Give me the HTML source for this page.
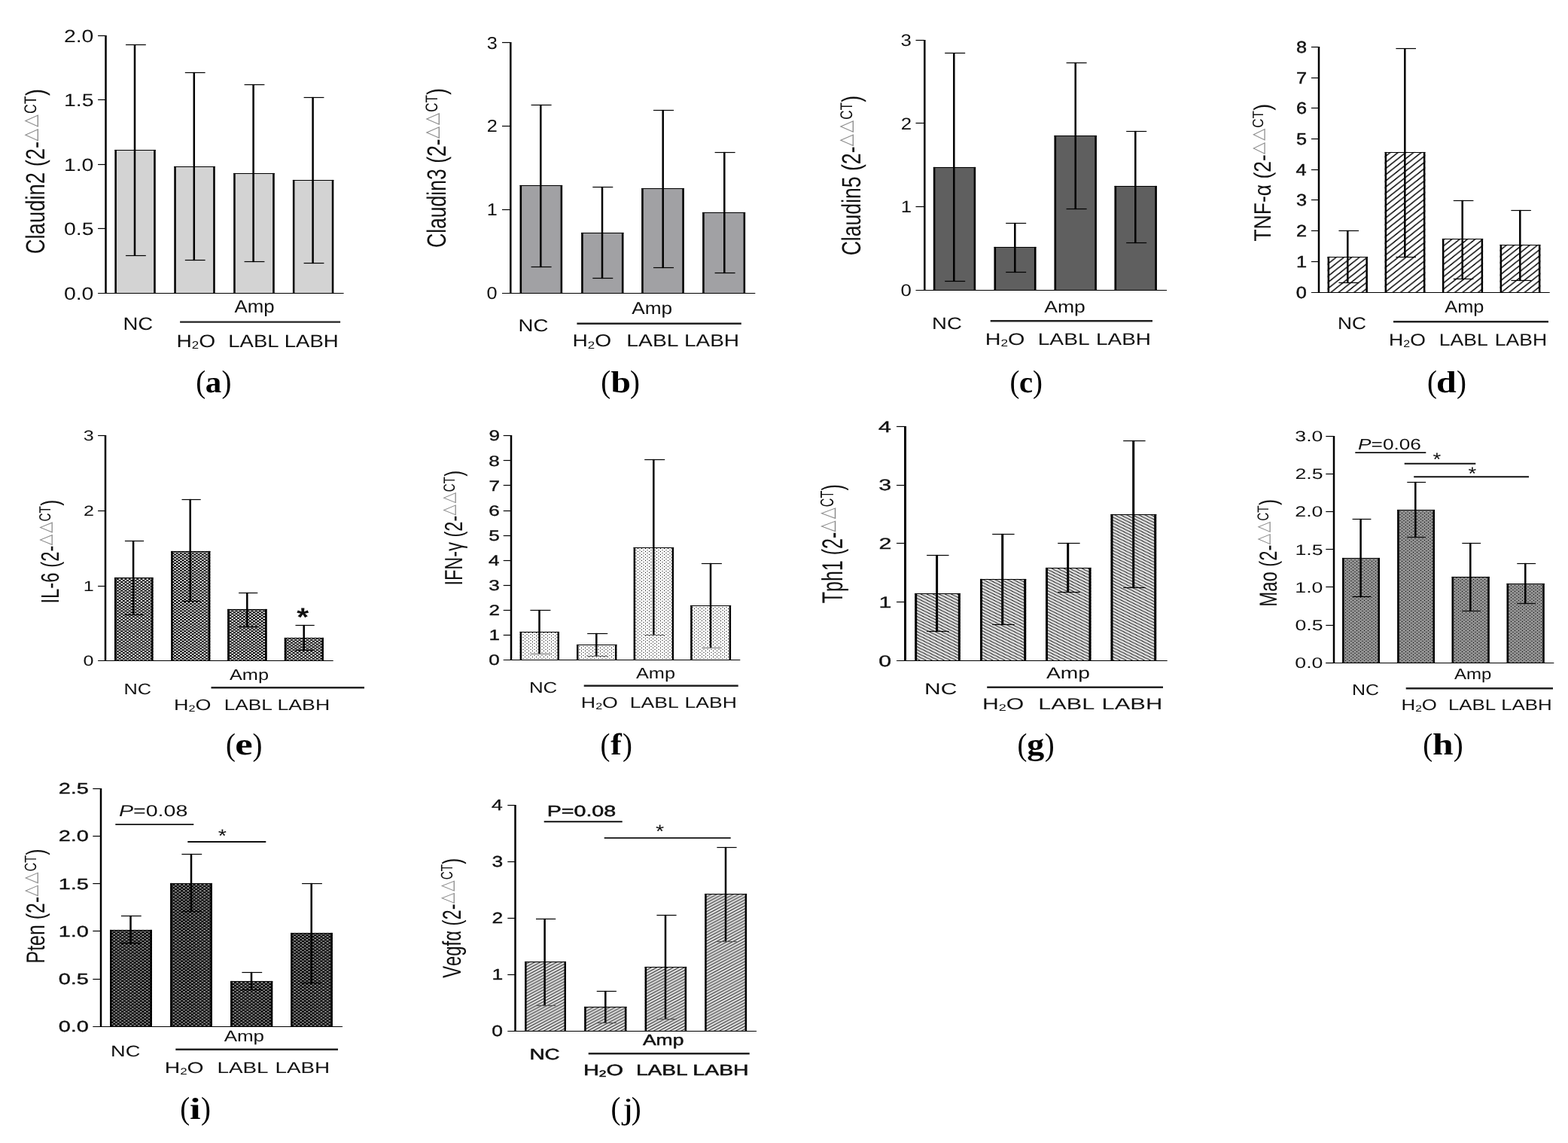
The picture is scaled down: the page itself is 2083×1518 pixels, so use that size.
<!DOCTYPE html>
<html lang="en">
<head>
<meta charset="utf-8">
<title>Figure: gene expression bar charts (a)-(j)</title>
<style>
html,body{margin:0;padding:0;background:#fff;}
body{width:2083px;height:1518px;overflow:hidden;}
svg{display:block;}
svg text{font-kerning:none;white-space:pre;text-rendering:geometricPrecision;}
</style>
</head>
<body>
<svg width="2083" height="1518" viewBox="0 0 2083 1518">
<defs>
<pattern id="hatch_d" patternUnits="userSpaceOnUse" width="10.3" height="8.2" x="1840" y="199.8"><rect width="10.3" height="8.2" fill="#fff"/><path d="M-10.3 8.2 L10.3 -8.2 M0 8.2 L10.3 0 M0 16.4 L20.6 0" stroke="#000" stroke-width="1.55" fill="none"/></pattern>
<pattern id="check_e" patternUnits="userSpaceOnUse" width="5.25" height="3.84" x="152.4" y="0.25"><rect width="5.25" height="3.84" fill="#000"/><rect x="0.2" y="0.1" width="2.45" height="1.75" fill="#fff"/><rect x="2.83" y="2.02" width="2.45" height="1.75" fill="#fff"/></pattern>
<pattern id="dots_f" patternUnits="userSpaceOnUse" width="5" height="4" x="1" y="0"><rect width="5" height="4" fill="#fff"/><rect x="1" y="0" width="1" height="1" fill="#000"/><rect x="3.5" y="2" width="1" height="1" fill="#000"/></pattern>
<pattern id="hatch_g" patternUnits="userSpaceOnUse" width="8.06" height="4.03"><rect width="8.06" height="4.03" fill="#dedede"/><path d="M-8.06 -4.03 L8.06 4.03 M0 -4.03 L16.12 4.03 M-8.06 0 L8.06 8.06" stroke="#000" stroke-width="0.9" fill="none"/></pattern>
<pattern id="dots_h" patternUnits="userSpaceOnUse" width="5" height="4" x="1" y="1"><rect width="5" height="4" fill="#8f8f8f"/><rect x="1" y="0" width="1" height="1" fill="#000"/><rect x="3.5" y="2" width="1" height="1" fill="#000"/></pattern>
<pattern id="check_i" patternUnits="userSpaceOnUse" width="5.45" height="4.06" x="150.3" y="0.8"><rect width="5.45" height="4.06" fill="#000"/><rect x="0.2" y="0.1" width="2.5" height="1.6" fill="#a4a4a4"/><rect x="2.93" y="2.13" width="2.5" height="1.6" fill="#a4a4a4"/></pattern>
<pattern id="hatch_j" patternUnits="userSpaceOnUse" width="7.3" height="3.9"><rect width="7.3" height="3.9" fill="#dedede"/><path d="M-7.3 3.9 L7.3 -3.9 M0 3.9 L7.3 0 M0 7.8 L14.6 0" stroke="#000" stroke-width="0.9" fill="none"/></pattern>
</defs>
<rect width="2083" height="1518" fill="#fff"/>
<g id="panel-a">
<rect x="152.4" y="198.9" width="54.3" height="190.6" fill="#d3d3d3"/>
<rect x="231.3" y="220.9" width="54.4" height="168.6" fill="#d3d3d3"/>
<rect x="310.2" y="229.9" width="54.5" height="159.6" fill="#d3d3d3"/>
<rect x="388.9" y="238.9" width="54.4" height="150.6" fill="#d3d3d3"/>
<line x1="153.65" y1="198.9" x2="153.65" y2="389.5" stroke="#000" stroke-width="2.5"/>
<line x1="205.45" y1="198.9" x2="205.45" y2="389.5" stroke="#000" stroke-width="2.5"/>
<line x1="152.4" y1="199.5" x2="206.7" y2="199.5" stroke="#000" stroke-width="1.2"/>
<line x1="232.55" y1="220.9" x2="232.55" y2="389.5" stroke="#000" stroke-width="2.5"/>
<line x1="284.45" y1="220.9" x2="284.45" y2="389.5" stroke="#000" stroke-width="2.5"/>
<line x1="231.3" y1="221.5" x2="285.7" y2="221.5" stroke="#000" stroke-width="1.2"/>
<line x1="311.45" y1="229.9" x2="311.45" y2="389.5" stroke="#000" stroke-width="2.5"/>
<line x1="363.45" y1="229.9" x2="363.45" y2="389.5" stroke="#000" stroke-width="2.5"/>
<line x1="310.2" y1="230.5" x2="364.7" y2="230.5" stroke="#000" stroke-width="1.2"/>
<line x1="390.15" y1="238.9" x2="390.15" y2="389.5" stroke="#000" stroke-width="2.5"/>
<line x1="442.05" y1="238.9" x2="442.05" y2="389.5" stroke="#000" stroke-width="2.5"/>
<line x1="388.9" y1="239.5" x2="443.3" y2="239.5" stroke="#000" stroke-width="1.2"/>
<line x1="179" y1="58.9" x2="179" y2="340.1" stroke="#000" stroke-width="2.5"/>
<line x1="167" y1="59.5" x2="193.8" y2="59.5" stroke="#000" stroke-width="1.2"/>
<line x1="167" y1="339.5" x2="193.8" y2="339.5" stroke="#000" stroke-width="1.2"/>
<line x1="257.8" y1="95.9" x2="257.8" y2="346.1" stroke="#000" stroke-width="2.5"/>
<line x1="245.8" y1="96.5" x2="272.6" y2="96.5" stroke="#000" stroke-width="1.2"/>
<line x1="245.8" y1="345.5" x2="272.6" y2="345.5" stroke="#000" stroke-width="1.2"/>
<line x1="336.6" y1="111.9" x2="336.6" y2="348.1" stroke="#000" stroke-width="2.5"/>
<line x1="324.6" y1="112.5" x2="351.4" y2="112.5" stroke="#000" stroke-width="1.2"/>
<line x1="324.6" y1="347.5" x2="351.4" y2="347.5" stroke="#000" stroke-width="1.2"/>
<line x1="415.6" y1="128.9" x2="415.6" y2="350.1" stroke="#000" stroke-width="2.5"/>
<line x1="403.6" y1="129.5" x2="430.4" y2="129.5" stroke="#000" stroke-width="1.2"/>
<line x1="403.6" y1="349.5" x2="430.4" y2="349.5" stroke="#000" stroke-width="1.2"/>
<line x1="140.5" y1="46.9" x2="140.5" y2="390.1" stroke="#000" stroke-width="2.5"/>
<line x1="130.1" y1="389.5" x2="456.6" y2="389.5" stroke="#000" stroke-width="1.2"/>
<line x1="130.1" y1="47.5" x2="140.5" y2="47.5" stroke="#000" stroke-width="1.2"/>
<line x1="130.1" y1="132.5" x2="140.5" y2="132.5" stroke="#000" stroke-width="1.2"/>
<line x1="130.1" y1="218.5" x2="140.5" y2="218.5" stroke="#000" stroke-width="1.2"/>
<line x1="130.1" y1="303.5" x2="140.5" y2="303.5" stroke="#000" stroke-width="1.2"/>
<text transform="matrix(1.2 0 0 1 84.89 55.55)" font-family='"Liberation Sans", sans-serif' font-size="23.69" fill="#111" >2.0</text>
<text transform="matrix(1.2 0 0 1 84.97 141.05)" font-family='"Liberation Sans", sans-serif' font-size="23.69" fill="#111" >1.5</text>
<text transform="matrix(1.2 0 0 1 84.89 226.55)" font-family='"Liberation Sans", sans-serif' font-size="23.69" fill="#111" >1.0</text>
<text transform="matrix(1.2 0 0 1 84.97 312.05)" font-family='"Liberation Sans", sans-serif' font-size="23.69" fill="#111" >0.5</text>
<text transform="matrix(1.2 0 0 1 84.89 397.55)" font-family='"Liberation Sans", sans-serif' font-size="23.69" fill="#111" >0.0</text>
<text transform="matrix(1.0908 0 0 1 311.55 415.3)" font-family='"Liberation Sans", sans-serif' font-size="23.69" fill="#111" >Amp</text>
<text transform="matrix(1.1634 0 0 1 163.44 437.9)" font-family='"Liberation Sans", sans-serif' font-size="23.69" fill="#111" >NC</text>
<text transform="matrix(1.1891 0 0 1 234.49 460.5)" font-family='"Liberation Sans", sans-serif' font-size="23.69" fill="#111">H<tspan font-size="14.22" dy="2.25">2</tspan><tspan dy="-2.25">O</tspan></text>
<text transform="matrix(1.1589 0 0 1 303.35 460.5)" font-family='"Liberation Sans", sans-serif' font-size="23.69" fill="#111" >LABL</text>
<text transform="matrix(1.1635 0 0 1 377.74 460.5)" font-family='"Liberation Sans", sans-serif' font-size="23.69" fill="#111" >LABH</text>
<line x1="239.1" y1="427.6" x2="452.1" y2="427.6" stroke="#222" stroke-width="2.4"/>
<g transform="matrix(0 -1 1.2814 0 59 337.29)" font-family='"Liberation Sans", sans-serif' fill="#111"><text x="0" y="0" font-size="27.45">Claudin2 (2-</text><text transform="matrix(1.1452 0 0 1 149.85 -8.88)" font-size="18.85" font-family='"DejaVu Sans", sans-serif' fill="#8c8c8c">△</text><text transform="matrix(1.1452 0 0 1 168.65 -8.88)" font-size="18.85" font-family='"DejaVu Sans", sans-serif' fill="#8c8c8c">△</text><text x="186.32" y="-8.67" font-size="17.57">CT</text><text x="210.06" y="0" font-size="27.45">)</text></g>
<text font-family='"Liberation Serif", serif' fill="#000" y="521.1"><tspan x="260.29" font-size="42.2" textLength="12.93" lengthAdjust="spacingAndGlyphs">(</tspan><tspan x="272.79" y="520.7" font-size="40.5" font-weight="bold" textLength="21.49" lengthAdjust="spacingAndGlyphs">a</tspan><tspan x="294.58" y="521.1" font-size="42.2" textLength="12.93" lengthAdjust="spacingAndGlyphs">)</tspan></text>
</g>
<g id="panel-b">
<rect x="690.6" y="245.9" width="56.5" height="143.6" fill="#a1a1a4"/>
<rect x="772.2" y="308.9" width="56.2" height="80.6" fill="#a1a1a4"/>
<rect x="852.2" y="249.9" width="56.6" height="139.6" fill="#a1a1a4"/>
<rect x="933.2" y="281.9" width="56.9" height="107.6" fill="#a1a1a4"/>
<line x1="691.85" y1="245.9" x2="691.85" y2="389.5" stroke="#000" stroke-width="2.5"/>
<line x1="745.85" y1="245.9" x2="745.85" y2="389.5" stroke="#000" stroke-width="2.5"/>
<line x1="690.6" y1="246.5" x2="747.1" y2="246.5" stroke="#000" stroke-width="1.2"/>
<line x1="773.45" y1="308.9" x2="773.45" y2="389.5" stroke="#000" stroke-width="2.5"/>
<line x1="827.15" y1="308.9" x2="827.15" y2="389.5" stroke="#000" stroke-width="2.5"/>
<line x1="772.2" y1="309.5" x2="828.4" y2="309.5" stroke="#000" stroke-width="1.2"/>
<line x1="853.45" y1="249.9" x2="853.45" y2="389.5" stroke="#000" stroke-width="2.5"/>
<line x1="907.55" y1="249.9" x2="907.55" y2="389.5" stroke="#000" stroke-width="2.5"/>
<line x1="852.2" y1="250.5" x2="908.8" y2="250.5" stroke="#000" stroke-width="1.2"/>
<line x1="934.45" y1="281.9" x2="934.45" y2="389.5" stroke="#000" stroke-width="2.5"/>
<line x1="988.85" y1="281.9" x2="988.85" y2="389.5" stroke="#000" stroke-width="2.5"/>
<line x1="933.2" y1="282.5" x2="990.1" y2="282.5" stroke="#000" stroke-width="1.2"/>
<line x1="718.3" y1="138.9" x2="718.3" y2="355.1" stroke="#000" stroke-width="2.5"/>
<line x1="705.6" y1="139.5" x2="732.6" y2="139.5" stroke="#000" stroke-width="1.2"/>
<line x1="705.6" y1="354.5" x2="732.6" y2="354.5" stroke="#000" stroke-width="1.2"/>
<line x1="800" y1="247.9" x2="800" y2="370.1" stroke="#000" stroke-width="2.5"/>
<line x1="787.3" y1="248.5" x2="814.3" y2="248.5" stroke="#000" stroke-width="1.2"/>
<line x1="787.3" y1="369.5" x2="814.3" y2="369.5" stroke="#000" stroke-width="1.2"/>
<line x1="880.7" y1="145.9" x2="880.7" y2="356.1" stroke="#000" stroke-width="2.5"/>
<line x1="868" y1="146.5" x2="895" y2="146.5" stroke="#000" stroke-width="1.2"/>
<line x1="868" y1="355.5" x2="895" y2="355.5" stroke="#000" stroke-width="1.2"/>
<line x1="962.3" y1="201.9" x2="962.3" y2="363.1" stroke="#000" stroke-width="2.5"/>
<line x1="949.6" y1="202.5" x2="976.6" y2="202.5" stroke="#000" stroke-width="1.2"/>
<line x1="949.6" y1="362.5" x2="976.6" y2="362.5" stroke="#000" stroke-width="1.2"/>
<line x1="678.3" y1="55.9" x2="678.3" y2="390.1" stroke="#000" stroke-width="2.5"/>
<line x1="667" y1="389.5" x2="1003.3" y2="389.5" stroke="#000" stroke-width="1.2"/>
<line x1="667" y1="56.5" x2="678.3" y2="56.5" stroke="#000" stroke-width="1.2"/>
<line x1="667" y1="167.5" x2="678.3" y2="167.5" stroke="#000" stroke-width="1.2"/>
<line x1="667" y1="278.5" x2="678.3" y2="278.5" stroke="#000" stroke-width="1.2"/>
<text transform="matrix(1.1 0 0 1 646.66 64.6)" font-family='"Liberation Sans", sans-serif' font-size="22.97" fill="#111" >3</text>
<text transform="matrix(1.1 0 0 1 646.82 175.43)" font-family='"Liberation Sans", sans-serif' font-size="22.97" fill="#111" >2</text>
<text transform="matrix(1.1 0 0 1 646.78 286.27)" font-family='"Liberation Sans", sans-serif' font-size="22.97" fill="#111" >1</text>
<text transform="matrix(1.1 0 0 1 646.54 397.1)" font-family='"Liberation Sans", sans-serif' font-size="22.97" fill="#111" >0</text>
<text transform="matrix(1.1404 0 0 1 839.25 416.8)" font-family='"Liberation Sans", sans-serif' font-size="22.97" fill="#111" >Amp</text>
<text transform="matrix(1.2035 0 0 1 688.43 439.6)" font-family='"Liberation Sans", sans-serif' font-size="22.97" fill="#111" >NC</text>
<text transform="matrix(1.2267 0 0 1 760.39 460.4)" font-family='"Liberation Sans", sans-serif' font-size="22.97" fill="#111">H<tspan font-size="13.78" dy="2.18">2</tspan><tspan dy="-2.18">O</tspan></text>
<text transform="matrix(1.2329 0 0 1 832.28 460.4)" font-family='"Liberation Sans", sans-serif' font-size="22.97" fill="#111" >LABL</text>
<text transform="matrix(1.2199 0 0 1 908.9 460.4)" font-family='"Liberation Sans", sans-serif' font-size="22.97" fill="#111" >LABH</text>
<line x1="766.4" y1="429.7" x2="984.8" y2="429.7" stroke="#222" stroke-width="2.4"/>
<g transform="matrix(0 -1 1.3256 0 592.2 328.95)" font-family='"Liberation Sans", sans-serif' fill="#111"><text x="0" y="0" font-size="26.54">Claudin3 (2-</text><text transform="matrix(1.1452 0 0 1 144.85 -8.58)" font-size="18.22" font-family='"DejaVu Sans", sans-serif' fill="#8c8c8c">△</text><text transform="matrix(1.1452 0 0 1 163.03 -8.58)" font-size="18.22" font-family='"DejaVu Sans", sans-serif' fill="#8c8c8c">△</text><text x="180.12" y="-8.39" font-size="16.98">CT</text><text x="203.06" y="0" font-size="26.54">)</text></g>
<text font-family='"Liberation Serif", serif' fill="#000" y="520.9"><tspan x="798.29" font-size="42.2" textLength="12.93" lengthAdjust="spacingAndGlyphs">(</tspan><tspan x="811.57" y="520.5" font-size="40.5" font-weight="bold" textLength="26.49" lengthAdjust="spacingAndGlyphs">b</tspan><tspan x="837.08" y="520.9" font-size="42.2" textLength="12.93" lengthAdjust="spacingAndGlyphs">)</tspan></text>
</g>
<g id="panel-c">
<rect x="1239.9" y="221.9" width="56.2" height="163.6" fill="#5f5f5f"/>
<rect x="1320.6" y="327.9" width="55.8" height="57.6" fill="#5f5f5f"/>
<rect x="1400.6" y="179.9" width="56.2" height="205.6" fill="#5f5f5f"/>
<rect x="1480.6" y="246.9" width="56.2" height="138.6" fill="#5f5f5f"/>
<line x1="1241.15" y1="221.9" x2="1241.15" y2="385.5" stroke="#000" stroke-width="2.5"/>
<line x1="1294.85" y1="221.9" x2="1294.85" y2="385.5" stroke="#000" stroke-width="2.5"/>
<line x1="1239.9" y1="222.5" x2="1296.1" y2="222.5" stroke="#000" stroke-width="1.2"/>
<line x1="1321.85" y1="327.9" x2="1321.85" y2="385.5" stroke="#000" stroke-width="2.5"/>
<line x1="1375.15" y1="327.9" x2="1375.15" y2="385.5" stroke="#000" stroke-width="2.5"/>
<line x1="1320.6" y1="328.5" x2="1376.4" y2="328.5" stroke="#000" stroke-width="1.2"/>
<line x1="1401.85" y1="179.9" x2="1401.85" y2="385.5" stroke="#000" stroke-width="2.5"/>
<line x1="1455.55" y1="179.9" x2="1455.55" y2="385.5" stroke="#000" stroke-width="2.5"/>
<line x1="1400.6" y1="180.5" x2="1456.8" y2="180.5" stroke="#000" stroke-width="1.2"/>
<line x1="1481.85" y1="246.9" x2="1481.85" y2="385.5" stroke="#000" stroke-width="2.5"/>
<line x1="1535.55" y1="246.9" x2="1535.55" y2="385.5" stroke="#000" stroke-width="2.5"/>
<line x1="1480.6" y1="247.5" x2="1536.8" y2="247.5" stroke="#000" stroke-width="1.2"/>
<line x1="1267.3" y1="69.9" x2="1267.3" y2="374.1" stroke="#000" stroke-width="2.5"/>
<line x1="1255.2" y1="70.5" x2="1282.2" y2="70.5" stroke="#000" stroke-width="1.2"/>
<line x1="1255.2" y1="373.5" x2="1282.2" y2="373.5" stroke="#000" stroke-width="1.2"/>
<line x1="1348.3" y1="295.9" x2="1348.3" y2="362.1" stroke="#000" stroke-width="2.5"/>
<line x1="1336.2" y1="296.5" x2="1363.2" y2="296.5" stroke="#000" stroke-width="1.2"/>
<line x1="1336.2" y1="361.5" x2="1363.2" y2="361.5" stroke="#000" stroke-width="1.2"/>
<line x1="1428.7" y1="82.9" x2="1428.7" y2="278.1" stroke="#000" stroke-width="2.5"/>
<line x1="1416.6" y1="83.5" x2="1443.6" y2="83.5" stroke="#000" stroke-width="1.2"/>
<line x1="1416.6" y1="277.5" x2="1443.6" y2="277.5" stroke="#000" stroke-width="1.2"/>
<line x1="1508.3" y1="173.9" x2="1508.3" y2="323.1" stroke="#000" stroke-width="2.5"/>
<line x1="1496.2" y1="174.5" x2="1523.2" y2="174.5" stroke="#000" stroke-width="1.2"/>
<line x1="1496.2" y1="322.5" x2="1523.2" y2="322.5" stroke="#000" stroke-width="1.2"/>
<line x1="1228.3" y1="52.9" x2="1228.3" y2="386.1" stroke="#000" stroke-width="2.5"/>
<line x1="1216.5" y1="385.5" x2="1550" y2="385.5" stroke="#000" stroke-width="1.2"/>
<line x1="1216.5" y1="53.5" x2="1228.3" y2="53.5" stroke="#000" stroke-width="1.2"/>
<line x1="1216.5" y1="163.5" x2="1228.3" y2="163.5" stroke="#000" stroke-width="1.2"/>
<line x1="1216.5" y1="274.5" x2="1228.3" y2="274.5" stroke="#000" stroke-width="1.2"/>
<text transform="matrix(1.16 0 0 1 1196.59 61.05)" font-family='"Liberation Sans", sans-serif' font-size="22.24" fill="#111" >3</text>
<text transform="matrix(1.16 0 0 1 1196.75 171.58)" font-family='"Liberation Sans", sans-serif' font-size="22.24" fill="#111" >2</text>
<text transform="matrix(1.16 0 0 1 1196.71 282.12)" font-family='"Liberation Sans", sans-serif' font-size="22.24" fill="#111" >1</text>
<text transform="matrix(1.16 0 0 1 1196.46 392.65)" font-family='"Liberation Sans", sans-serif' font-size="22.24" fill="#111" >0</text>
<text transform="matrix(1.1933 0 0 1 1387.25 414.5)" font-family='"Liberation Sans", sans-serif' font-size="22.24" fill="#111" >Amp</text>
<text transform="matrix(1.2361 0 0 1 1238.05 436.7)" font-family='"Liberation Sans", sans-serif' font-size="22.24" fill="#111" >NC</text>
<text transform="matrix(1.2932 0 0 1 1308.64 457.6)" font-family='"Liberation Sans", sans-serif' font-size="22.24" fill="#111">H<tspan font-size="13.34" dy="2.11">2</tspan><tspan dy="-2.11">O</tspan></text>
<text transform="matrix(1.2674 0 0 1 1378.69 457.6)" font-family='"Liberation Sans", sans-serif' font-size="22.24" fill="#111" >LABL</text>
<text transform="matrix(1.2561 0 0 1 1456.01 457.6)" font-family='"Liberation Sans", sans-serif' font-size="22.24" fill="#111" >LABH</text>
<line x1="1315.7" y1="426.3" x2="1531" y2="426.3" stroke="#222" stroke-width="2.4"/>
<g transform="matrix(0 -1 1.3224 0 1142.8 339.35)" font-family='"Liberation Sans", sans-serif' fill="#111"><text x="0" y="0" font-size="26.6">Claudin5 (2-</text><text transform="matrix(1.1452 0 0 1 145.2 -8.6)" font-size="18.27" font-family='"DejaVu Sans", sans-serif' fill="#8c8c8c">△</text><text transform="matrix(1.1452 0 0 1 163.42 -8.6)" font-size="18.27" font-family='"DejaVu Sans", sans-serif' fill="#8c8c8c">△</text><text x="180.55" y="-8.41" font-size="17.02">CT</text><text x="203.54" y="0" font-size="26.6">)</text></g>
<text font-family='"Liberation Serif", serif' fill="#000" y="520.9"><tspan x="1341.59" font-size="42.2" textLength="12.93" lengthAdjust="spacingAndGlyphs">(</tspan><tspan x="1354.08" y="520.5" font-size="40.5" font-weight="bold" textLength="18.06" lengthAdjust="spacingAndGlyphs">c</tspan><tspan x="1372.08" y="520.9" font-size="42.2" textLength="12.93" lengthAdjust="spacingAndGlyphs">)</tspan></text>
</g>
<g id="panel-d">
<rect x="1763.6" y="340.9" width="53.3" height="47.6" fill="url(#hatch_d)"/>
<rect x="1839.6" y="201.9" width="53.8" height="186.6" fill="url(#hatch_d)"/>
<rect x="1915.9" y="316.9" width="54.2" height="71.6" fill="url(#hatch_d)"/>
<rect x="1992.6" y="324.9" width="53.8" height="63.6" fill="url(#hatch_d)"/>
<line x1="1764.85" y1="340.9" x2="1764.85" y2="388.5" stroke="#000" stroke-width="2.5"/>
<line x1="1815.65" y1="340.9" x2="1815.65" y2="388.5" stroke="#000" stroke-width="2.5"/>
<line x1="1763.6" y1="341.5" x2="1816.9" y2="341.5" stroke="#000" stroke-width="1.2"/>
<line x1="1840.85" y1="201.9" x2="1840.85" y2="388.5" stroke="#000" stroke-width="2.5"/>
<line x1="1892.15" y1="201.9" x2="1892.15" y2="388.5" stroke="#000" stroke-width="2.5"/>
<line x1="1839.6" y1="202.5" x2="1893.4" y2="202.5" stroke="#000" stroke-width="1.2"/>
<line x1="1917.15" y1="316.9" x2="1917.15" y2="388.5" stroke="#000" stroke-width="2.5"/>
<line x1="1968.85" y1="316.9" x2="1968.85" y2="388.5" stroke="#000" stroke-width="2.5"/>
<line x1="1915.9" y1="317.5" x2="1970.1" y2="317.5" stroke="#000" stroke-width="1.2"/>
<line x1="1993.85" y1="324.9" x2="1993.85" y2="388.5" stroke="#000" stroke-width="2.5"/>
<line x1="2045.15" y1="324.9" x2="2045.15" y2="388.5" stroke="#000" stroke-width="2.5"/>
<line x1="1992.6" y1="325.5" x2="2046.4" y2="325.5" stroke="#000" stroke-width="1.2"/>
<line x1="1790.3" y1="305.9" x2="1790.3" y2="376.1" stroke="#000" stroke-width="2.5"/>
<line x1="1778.4" y1="306.5" x2="1805" y2="306.5" stroke="#000" stroke-width="1.2"/>
<line x1="1778.4" y1="375.5" x2="1805" y2="375.5" stroke="#000" stroke-width="1.2"/>
<line x1="1866.3" y1="63.9" x2="1866.3" y2="342.1" stroke="#000" stroke-width="2.5"/>
<line x1="1854.4" y1="64.5" x2="1881" y2="64.5" stroke="#000" stroke-width="1.2"/>
<line x1="1854.4" y1="341.5" x2="1881" y2="341.5" stroke="#000" stroke-width="1.2"/>
<line x1="1942.7" y1="265.9" x2="1942.7" y2="371.1" stroke="#000" stroke-width="2.5"/>
<line x1="1930.8" y1="266.5" x2="1957.4" y2="266.5" stroke="#000" stroke-width="1.2"/>
<line x1="1930.8" y1="370.5" x2="1957.4" y2="370.5" stroke="#000" stroke-width="1.2"/>
<line x1="2019.3" y1="278.9" x2="2019.3" y2="373.1" stroke="#000" stroke-width="2.5"/>
<line x1="2007.4" y1="279.5" x2="2034" y2="279.5" stroke="#000" stroke-width="1.2"/>
<line x1="2007.4" y1="372.5" x2="2034" y2="372.5" stroke="#000" stroke-width="1.2"/>
<line x1="1752" y1="61.9" x2="1752" y2="389.1" stroke="#000" stroke-width="2.5"/>
<line x1="1742" y1="388.5" x2="2058.7" y2="388.5" stroke="#000" stroke-width="1.2"/>
<line x1="1742" y1="62.5" x2="1752" y2="62.5" stroke="#000" stroke-width="1.2"/>
<line x1="1742" y1="103.5" x2="1752" y2="103.5" stroke="#000" stroke-width="1.2"/>
<line x1="1742" y1="143.5" x2="1752" y2="143.5" stroke="#000" stroke-width="1.2"/>
<line x1="1742" y1="184.5" x2="1752" y2="184.5" stroke="#000" stroke-width="1.2"/>
<line x1="1742" y1="225.5" x2="1752" y2="225.5" stroke="#000" stroke-width="1.2"/>
<line x1="1742" y1="265.5" x2="1752" y2="265.5" stroke="#000" stroke-width="1.2"/>
<line x1="1742" y1="306.5" x2="1752" y2="306.5" stroke="#000" stroke-width="1.2"/>
<line x1="1742" y1="347.5" x2="1752" y2="347.5" stroke="#000" stroke-width="1.2"/>
<text transform="matrix(1.16 0 0 1 1721.93 69.9)" font-family='"Liberation Sans", sans-serif' font-size="21.8" fill="#111"  stroke="#111" stroke-width="0.45">8</text>
<text transform="matrix(1.16 0 0 1 1722.11 110.6)" font-family='"Liberation Sans", sans-serif' font-size="21.8" fill="#111"  stroke="#111" stroke-width="0.45">7</text>
<text transform="matrix(1.16 0 0 1 1721.95 151.3)" font-family='"Liberation Sans", sans-serif' font-size="21.8" fill="#111"  stroke="#111" stroke-width="0.45">6</text>
<text transform="matrix(1.16 0 0 1 1721.9 192)" font-family='"Liberation Sans", sans-serif' font-size="21.8" fill="#111"  stroke="#111" stroke-width="0.45">5</text>
<text transform="matrix(1.16 0 0 1 1721.58 232.7)" font-family='"Liberation Sans", sans-serif' font-size="21.8" fill="#111"  stroke="#111" stroke-width="0.45">4</text>
<text transform="matrix(1.16 0 0 1 1721.95 273.4)" font-family='"Liberation Sans", sans-serif' font-size="21.8" fill="#111"  stroke="#111" stroke-width="0.45">3</text>
<text transform="matrix(1.16 0 0 1 1722.11 314.1)" font-family='"Liberation Sans", sans-serif' font-size="21.8" fill="#111"  stroke="#111" stroke-width="0.45">2</text>
<text transform="matrix(1.16 0 0 1 1722.07 354.8)" font-family='"Liberation Sans", sans-serif' font-size="21.8" fill="#111"  stroke="#111" stroke-width="0.45">1</text>
<text transform="matrix(1.16 0 0 1 1721.82 395.5)" font-family='"Liberation Sans", sans-serif' font-size="21.8" fill="#111"  stroke="#111" stroke-width="0.45">0</text>
<text transform="matrix(1.1178 0 0 1 1919.25 415)" font-family='"Liberation Sans", sans-serif' font-size="22.67" fill="#111" >Amp</text>
<text transform="matrix(1.159 0 0 1 1777.04 436.9)" font-family='"Liberation Sans", sans-serif' font-size="22.67" fill="#111" >NC</text>
<text transform="matrix(1.1726 0 0 1 1845.12 459)" font-family='"Liberation Sans", sans-serif' font-size="22.67" fill="#111">H<tspan font-size="13.6" dy="2.15">2</tspan><tspan dy="-2.15">O</tspan></text>
<text transform="matrix(1.173 0 0 1 1911.82 459)" font-family='"Liberation Sans", sans-serif' font-size="22.67" fill="#111" >LABL</text>
<text transform="matrix(1.1707 0 0 1 1985.82 459)" font-family='"Liberation Sans", sans-serif' font-size="22.67" fill="#111" >LABH</text>
<line x1="1851" y1="427.3" x2="2057" y2="427.3" stroke="#222" stroke-width="2.4"/>
<g transform="matrix(0 -1 1.1904 0 1687.8 320.6)" font-family='"Liberation Sans", sans-serif' fill="#111"><text x="0" y="0" font-size="26.5">TNF-α (2-</text><text transform="matrix(1.1452 0 0 1 115.7 -8.57)" font-size="18.19" font-family='"DejaVu Sans", sans-serif' fill="#8c8c8c">△</text><text transform="matrix(1.1452 0 0 1 133.85 -8.57)" font-size="18.19" font-family='"DejaVu Sans", sans-serif' fill="#8c8c8c">△</text><text x="150.91" y="-8.37" font-size="16.96">CT</text><text x="173.81" y="0" font-size="26.5">)</text></g>
<text font-family='"Liberation Serif", serif' fill="#000" y="520.9"><tspan x="1895.99" font-size="42.2" textLength="12.93" lengthAdjust="spacingAndGlyphs">(</tspan><tspan x="1907.92" y="520.5" font-size="40.5" font-weight="bold" textLength="26.75" lengthAdjust="spacingAndGlyphs">d</tspan><tspan x="1935.08" y="520.9" font-size="42.2" textLength="12.93" lengthAdjust="spacingAndGlyphs">)</tspan></text>
</g>
<g id="panel-e">
<rect x="152" y="766.9" width="51.5" height="110.6" fill="url(#check_e)"/>
<rect x="227.2" y="731.9" width="52.1" height="145.6" fill="url(#check_e)"/>
<rect x="302.2" y="808.9" width="52.4" height="68.6" fill="url(#check_e)"/>
<rect x="377.8" y="846.9" width="52.1" height="30.6" fill="url(#check_e)"/>
<line x1="153.25" y1="766.9" x2="153.25" y2="877.5" stroke="#000" stroke-width="2.5"/>
<line x1="202.25" y1="766.9" x2="202.25" y2="877.5" stroke="#000" stroke-width="2.5"/>
<line x1="152" y1="767.5" x2="203.5" y2="767.5" stroke="#000" stroke-width="1.2"/>
<line x1="228.45" y1="731.9" x2="228.45" y2="877.5" stroke="#000" stroke-width="2.5"/>
<line x1="278.05" y1="731.9" x2="278.05" y2="877.5" stroke="#000" stroke-width="2.5"/>
<line x1="227.2" y1="732.5" x2="279.3" y2="732.5" stroke="#000" stroke-width="1.2"/>
<line x1="303.45" y1="808.9" x2="303.45" y2="877.5" stroke="#000" stroke-width="2.5"/>
<line x1="353.35" y1="808.9" x2="353.35" y2="877.5" stroke="#000" stroke-width="2.5"/>
<line x1="302.2" y1="809.5" x2="354.6" y2="809.5" stroke="#000" stroke-width="1.2"/>
<line x1="379.05" y1="846.9" x2="379.05" y2="877.5" stroke="#000" stroke-width="2.5"/>
<line x1="428.65" y1="846.9" x2="428.65" y2="877.5" stroke="#000" stroke-width="2.5"/>
<line x1="377.8" y1="847.5" x2="429.9" y2="847.5" stroke="#000" stroke-width="1.2"/>
<line x1="177.1" y1="717.9" x2="177.1" y2="817.1" stroke="#000" stroke-width="2.5"/>
<line x1="165.9" y1="718.5" x2="191.1" y2="718.5" stroke="#000" stroke-width="1.2"/>
<line x1="165.9" y1="816.5" x2="191.1" y2="816.5" stroke="#000" stroke-width="1.2"/>
<line x1="252.7" y1="662.9" x2="252.7" y2="799.1" stroke="#000" stroke-width="2.5"/>
<line x1="241.5" y1="663.5" x2="266.7" y2="663.5" stroke="#000" stroke-width="1.2"/>
<line x1="241.5" y1="798.5" x2="266.7" y2="798.5" stroke="#000" stroke-width="1.2"/>
<line x1="328.3" y1="786.9" x2="328.3" y2="833.1" stroke="#000" stroke-width="2.5"/>
<line x1="317.1" y1="787.5" x2="342.3" y2="787.5" stroke="#000" stroke-width="1.2"/>
<line x1="317.1" y1="832.5" x2="342.3" y2="832.5" stroke="#000" stroke-width="1.2"/>
<line x1="403.7" y1="829.9" x2="403.7" y2="864.1" stroke="#000" stroke-width="2.5"/>
<line x1="392.5" y1="830.5" x2="417.7" y2="830.5" stroke="#000" stroke-width="1.2"/>
<line x1="392.5" y1="863.5" x2="417.7" y2="863.5" stroke="#000" stroke-width="1.2"/>
<line x1="140" y1="577.9" x2="140" y2="878.1" stroke="#000" stroke-width="2.5"/>
<line x1="130.1" y1="877.5" x2="442.7" y2="877.5" stroke="#000" stroke-width="1.2"/>
<line x1="130.1" y1="578.5" x2="140" y2="578.5" stroke="#000" stroke-width="1.2"/>
<line x1="130.1" y1="678.5" x2="140" y2="678.5" stroke="#000" stroke-width="1.2"/>
<line x1="130.1" y1="778.5" x2="140" y2="778.5" stroke="#000" stroke-width="1.2"/>
<text transform="matrix(1.3 0 0 1 110.73 585.35)" font-family='"Liberation Sans", sans-serif' font-size="19.33" fill="#111" >3</text>
<text transform="matrix(1.3 0 0 1 110.89 685.05)" font-family='"Liberation Sans", sans-serif' font-size="19.33" fill="#111" >2</text>
<text transform="matrix(1.3 0 0 1 110.85 784.75)" font-family='"Liberation Sans", sans-serif' font-size="19.33" fill="#111" >1</text>
<text transform="matrix(1.3 0 0 1 110.61 884.45)" font-family='"Liberation Sans", sans-serif' font-size="19.33" fill="#111" >0</text>
<text transform="matrix(1.2455 0 0 1 304.95 902.7)" font-family='"Liberation Sans", sans-serif' font-size="20.35" fill="#111" >Amp</text>
<text transform="matrix(1.2432 0 0 1 164.42 922.4)" font-family='"Liberation Sans", sans-serif' font-size="20.35" fill="#111" >NC</text>
<text transform="matrix(1.3239 0 0 1 231.09 942.6)" font-family='"Liberation Sans", sans-serif' font-size="20.35" fill="#111">H<tspan font-size="12.21" dy="1.93">2</tspan><tspan dy="-1.93">O</tspan></text>
<text transform="matrix(1.2902 0 0 1 297.65 942.6)" font-family='"Liberation Sans", sans-serif' font-size="20.35" fill="#111" >LABL</text>
<text transform="matrix(1.3105 0 0 1 368.51 942.6)" font-family='"Liberation Sans", sans-serif' font-size="20.35" fill="#111" >LABH</text>
<line x1="280.5" y1="913.3" x2="484" y2="913.3" stroke="#222" stroke-width="2.4"/>
<g transform="matrix(0 -1 1.3978 0 77.9 801.61)" font-family='"Liberation Sans", sans-serif' fill="#111"><text x="0" y="0" font-size="23.92">IL-6 (2-</text><text transform="matrix(1.1452 0 0 1 77.37 -7.74)" font-size="16.42" font-family='"DejaVu Sans", sans-serif' fill="#8c8c8c">△</text><text transform="matrix(1.1452 0 0 1 93.75 -7.74)" font-size="16.42" font-family='"DejaVu Sans", sans-serif' fill="#8c8c8c">△</text><text x="109.15" y="-7.56" font-size="15.31">CT</text><text x="129.83" y="0" font-size="23.92">)</text></g>
<text font-family='"Liberation Serif", serif' fill="#000" y="1002.6"><tspan x="299.99" font-size="42.2" textLength="12.93" lengthAdjust="spacingAndGlyphs">(</tspan><tspan x="312.3" y="1002.2" font-size="40.5" font-weight="bold" textLength="23.37" lengthAdjust="spacingAndGlyphs">e</tspan><tspan x="335.48" y="1002.6" font-size="42.2" textLength="12.93" lengthAdjust="spacingAndGlyphs">)</tspan></text>
<text transform="matrix(1.2 0 0 1 394.32 830.57)" font-family='"Liberation Sans", sans-serif' font-size="34" fill="#111" font-weight="bold">*</text>
</g>
<g id="panel-f">
<rect x="690.6" y="838.9" width="52.4" height="37.6" fill="url(#dots_f)"/>
<rect x="766" y="855.9" width="53.4" height="20.6" fill="url(#dots_f)"/>
<rect x="841.6" y="726.9" width="53.5" height="149.6" fill="url(#dots_f)"/>
<rect x="917.2" y="803.9" width="53.9" height="72.6" fill="url(#dots_f)"/>
<line x1="691.85" y1="838.9" x2="691.85" y2="876.5" stroke="#000" stroke-width="2.5"/>
<line x1="741.75" y1="838.9" x2="741.75" y2="876.5" stroke="#000" stroke-width="2.5"/>
<line x1="690.6" y1="839.5" x2="743" y2="839.5" stroke="#000" stroke-width="1.2"/>
<line x1="767.25" y1="855.9" x2="767.25" y2="876.5" stroke="#000" stroke-width="2.5"/>
<line x1="818.15" y1="855.9" x2="818.15" y2="876.5" stroke="#000" stroke-width="2.5"/>
<line x1="766" y1="856.5" x2="819.4" y2="856.5" stroke="#000" stroke-width="1.2"/>
<line x1="842.85" y1="726.9" x2="842.85" y2="876.5" stroke="#000" stroke-width="2.5"/>
<line x1="893.85" y1="726.9" x2="893.85" y2="876.5" stroke="#000" stroke-width="2.5"/>
<line x1="841.6" y1="727.5" x2="895.1" y2="727.5" stroke="#000" stroke-width="1.2"/>
<line x1="918.45" y1="803.9" x2="918.45" y2="876.5" stroke="#000" stroke-width="2.5"/>
<line x1="969.85" y1="803.9" x2="969.85" y2="876.5" stroke="#000" stroke-width="2.5"/>
<line x1="917.2" y1="804.5" x2="971.1" y2="804.5" stroke="#000" stroke-width="1.2"/>
<line x1="716.5" y1="809.9" x2="716.5" y2="869.1" stroke="#000" stroke-width="2.5"/>
<line x1="704.4" y1="810.5" x2="731.4" y2="810.5" stroke="#000" stroke-width="1.2"/>
<line x1="704.4" y1="868.5" x2="731.4" y2="868.5" stroke="#777" stroke-width="1.2"/>
<line x1="792.3" y1="840.9" x2="792.3" y2="872.1" stroke="#000" stroke-width="2.5"/>
<line x1="780.2" y1="841.5" x2="807.2" y2="841.5" stroke="#000" stroke-width="1.2"/>
<line x1="780.2" y1="871.5" x2="807.2" y2="871.5" stroke="#777" stroke-width="1.2"/>
<line x1="868.3" y1="609.9" x2="868.3" y2="844.1" stroke="#000" stroke-width="2.5"/>
<line x1="856.2" y1="610.5" x2="883.2" y2="610.5" stroke="#000" stroke-width="1.2"/>
<line x1="856.2" y1="843.5" x2="883.2" y2="843.5" stroke="#777" stroke-width="1.2"/>
<line x1="944" y1="747.9" x2="944" y2="861.1" stroke="#000" stroke-width="2.5"/>
<line x1="931.9" y1="748.5" x2="958.9" y2="748.5" stroke="#000" stroke-width="1.2"/>
<line x1="931.9" y1="860.5" x2="958.9" y2="860.5" stroke="#777" stroke-width="1.2"/>
<line x1="679" y1="577.9" x2="679" y2="877.1" stroke="#000" stroke-width="2.5"/>
<line x1="668.7" y1="876.5" x2="983.3" y2="876.5" stroke="#000" stroke-width="1.2"/>
<line x1="668.7" y1="578.5" x2="679" y2="578.5" stroke="#000" stroke-width="1.2"/>
<line x1="668.7" y1="611.5" x2="679" y2="611.5" stroke="#000" stroke-width="1.2"/>
<line x1="668.7" y1="644.5" x2="679" y2="644.5" stroke="#000" stroke-width="1.2"/>
<line x1="668.7" y1="678.5" x2="679" y2="678.5" stroke="#000" stroke-width="1.2"/>
<line x1="668.7" y1="711.5" x2="679" y2="711.5" stroke="#000" stroke-width="1.2"/>
<line x1="668.7" y1="744.5" x2="679" y2="744.5" stroke="#000" stroke-width="1.2"/>
<line x1="668.7" y1="777.5" x2="679" y2="777.5" stroke="#000" stroke-width="1.2"/>
<line x1="668.7" y1="810.5" x2="679" y2="810.5" stroke="#000" stroke-width="1.2"/>
<line x1="668.7" y1="843.5" x2="679" y2="843.5" stroke="#000" stroke-width="1.2"/>
<text transform="matrix(1.33 0 0 1 649.42 585.45)" font-family='"Liberation Sans", sans-serif' font-size="19.62" fill="#111"  stroke="#111" stroke-width="0.35">9</text>
<text transform="matrix(1.33 0 0 1 649.32 618.56)" font-family='"Liberation Sans", sans-serif' font-size="19.62" fill="#111"  stroke="#111" stroke-width="0.35">8</text>
<text transform="matrix(1.33 0 0 1 649.5 651.67)" font-family='"Liberation Sans", sans-serif' font-size="19.62" fill="#111"  stroke="#111" stroke-width="0.35">7</text>
<text transform="matrix(1.33 0 0 1 649.33 684.78)" font-family='"Liberation Sans", sans-serif' font-size="19.62" fill="#111"  stroke="#111" stroke-width="0.35">6</text>
<text transform="matrix(1.33 0 0 1 649.28 717.89)" font-family='"Liberation Sans", sans-serif' font-size="19.62" fill="#111"  stroke="#111" stroke-width="0.35">5</text>
<text transform="matrix(1.33 0 0 1 648.95 751.01)" font-family='"Liberation Sans", sans-serif' font-size="19.62" fill="#111"  stroke="#111" stroke-width="0.35">4</text>
<text transform="matrix(1.33 0 0 1 649.33 784.12)" font-family='"Liberation Sans", sans-serif' font-size="19.62" fill="#111"  stroke="#111" stroke-width="0.35">3</text>
<text transform="matrix(1.33 0 0 1 649.5 817.23)" font-family='"Liberation Sans", sans-serif' font-size="19.62" fill="#111"  stroke="#111" stroke-width="0.35">2</text>
<text transform="matrix(1.33 0 0 1 649.46 850.34)" font-family='"Liberation Sans", sans-serif' font-size="19.62" fill="#111"  stroke="#111" stroke-width="0.35">1</text>
<text transform="matrix(1.33 0 0 1 649.21 883.45)" font-family='"Liberation Sans", sans-serif' font-size="19.62" fill="#111"  stroke="#111" stroke-width="0.35">0</text>
<text transform="matrix(1.2455 0 0 1 844.95 900.7)" font-family='"Liberation Sans", sans-serif' font-size="20.35" fill="#111" >Amp</text>
<text transform="matrix(1.2729 0 0 1 702.88 919.7)" font-family='"Liberation Sans", sans-serif' font-size="20.35" fill="#111" >NC</text>
<text transform="matrix(1.3152 0 0 1 771.8 940)" font-family='"Liberation Sans", sans-serif' font-size="20.35" fill="#111">H<tspan font-size="12.21" dy="1.93">2</tspan><tspan dy="-1.93">O</tspan></text>
<text transform="matrix(1.3071 0 0 1 836.82 940)" font-family='"Liberation Sans", sans-serif' font-size="20.35" fill="#111" >LABL</text>
<text transform="matrix(1.3045 0 0 1 909.52 940)" font-family='"Liberation Sans", sans-serif' font-size="20.35" fill="#111" >LABH</text>
<line x1="775.7" y1="910.7" x2="980.7" y2="910.7" stroke="#222" stroke-width="2.4"/>
<g transform="matrix(0 -1 1.4073 0 614.2 777.57)" font-family='"Liberation Sans", sans-serif' fill="#111"><text x="0" y="0" font-size="23.55">IFN-γ (2-</text><text transform="matrix(1.1452 0 0 1 93.14 -7.62)" font-size="16.17" font-family='"DejaVu Sans", sans-serif' fill="#8c8c8c">△</text><text transform="matrix(1.1452 0 0 1 109.27 -7.62)" font-size="16.17" font-family='"DejaVu Sans", sans-serif' fill="#8c8c8c">△</text><text x="124.43" y="-7.44" font-size="15.07">CT</text><text x="144.79" y="0" font-size="23.55">)</text></g>
<text font-family='"Liberation Serif", serif' fill="#000" y="1002.6"><tspan x="797.59" font-size="42.2" textLength="12.93" lengthAdjust="spacingAndGlyphs">(</tspan><tspan x="811.15" y="1002.2" font-size="40.5" font-weight="bold" textLength="14.55" lengthAdjust="spacingAndGlyphs">f</tspan><tspan x="827.08" y="1002.6" font-size="42.2" textLength="12.93" lengthAdjust="spacingAndGlyphs">)</tspan></text>
</g>
<g id="panel-g">
<rect x="1215.2" y="787.9" width="60.6" height="89.6" fill="url(#hatch_g)"/>
<rect x="1302" y="768.9" width="61.2" height="108.6" fill="url(#hatch_g)"/>
<rect x="1389" y="753.9" width="60.5" height="123.6" fill="url(#hatch_g)"/>
<rect x="1475.5" y="682.9" width="60.7" height="194.6" fill="url(#hatch_g)"/>
<line x1="1216.7" y1="787.9" x2="1216.7" y2="877.5" stroke="#000" stroke-width="3"/>
<line x1="1274.3" y1="787.9" x2="1274.3" y2="877.5" stroke="#000" stroke-width="3"/>
<line x1="1215.2" y1="788.5" x2="1275.8" y2="788.5" stroke="#000" stroke-width="1.2"/>
<line x1="1303.5" y1="768.9" x2="1303.5" y2="877.5" stroke="#000" stroke-width="3"/>
<line x1="1361.7" y1="768.9" x2="1361.7" y2="877.5" stroke="#000" stroke-width="3"/>
<line x1="1302" y1="769.5" x2="1363.2" y2="769.5" stroke="#000" stroke-width="1.2"/>
<line x1="1390.5" y1="753.9" x2="1390.5" y2="877.5" stroke="#000" stroke-width="3"/>
<line x1="1448" y1="753.9" x2="1448" y2="877.5" stroke="#000" stroke-width="3"/>
<line x1="1389" y1="754.5" x2="1449.5" y2="754.5" stroke="#000" stroke-width="1.2"/>
<line x1="1477" y1="682.9" x2="1477" y2="877.5" stroke="#000" stroke-width="3"/>
<line x1="1534.7" y1="682.9" x2="1534.7" y2="877.5" stroke="#000" stroke-width="3"/>
<line x1="1475.5" y1="683.5" x2="1536.2" y2="683.5" stroke="#000" stroke-width="1.2"/>
<line x1="1244.6" y1="736.9" x2="1244.6" y2="839.1" stroke="#000" stroke-width="3"/>
<line x1="1231.1" y1="737.5" x2="1260.5" y2="737.5" stroke="#000" stroke-width="1.2"/>
<line x1="1231.1" y1="838.5" x2="1260.5" y2="838.5" stroke="#000" stroke-width="1.2"/>
<line x1="1331.7" y1="708.9" x2="1331.7" y2="830.1" stroke="#000" stroke-width="3"/>
<line x1="1318.2" y1="709.5" x2="1347.6" y2="709.5" stroke="#000" stroke-width="1.2"/>
<line x1="1318.2" y1="829.5" x2="1347.6" y2="829.5" stroke="#000" stroke-width="1.2"/>
<line x1="1418.7" y1="720.9" x2="1418.7" y2="787.1" stroke="#000" stroke-width="3"/>
<line x1="1405.2" y1="721.5" x2="1434.6" y2="721.5" stroke="#000" stroke-width="1.2"/>
<line x1="1405.2" y1="786.5" x2="1434.6" y2="786.5" stroke="#000" stroke-width="1.2"/>
<line x1="1505.7" y1="584.9" x2="1505.7" y2="781.1" stroke="#000" stroke-width="3"/>
<line x1="1492.2" y1="585.5" x2="1521.6" y2="585.5" stroke="#000" stroke-width="1.2"/>
<line x1="1492.2" y1="780.5" x2="1521.6" y2="780.5" stroke="#000" stroke-width="1.2"/>
<line x1="1202.5" y1="565.9" x2="1202.5" y2="878.1" stroke="#000" stroke-width="3"/>
<line x1="1191" y1="877.5" x2="1550.7" y2="877.5" stroke="#000" stroke-width="1.2"/>
<line x1="1191" y1="566.5" x2="1202.5" y2="566.5" stroke="#000" stroke-width="1.2"/>
<line x1="1191" y1="644.5" x2="1202.5" y2="644.5" stroke="#000" stroke-width="1.2"/>
<line x1="1191" y1="721.5" x2="1202.5" y2="721.5" stroke="#000" stroke-width="1.2"/>
<line x1="1191" y1="799.5" x2="1202.5" y2="799.5" stroke="#000" stroke-width="1.2"/>
<text transform="matrix(1.45 0 0 1 1166.91 573.5)" font-family='"Liberation Sans", sans-serif' font-size="20.93" fill="#111"  stroke="#111" stroke-width="0.35">4</text>
<text transform="matrix(1.45 0 0 1 1167.36 651.25)" font-family='"Liberation Sans", sans-serif' font-size="20.93" fill="#111"  stroke="#111" stroke-width="0.35">3</text>
<text transform="matrix(1.45 0 0 1 1167.55 729)" font-family='"Liberation Sans", sans-serif' font-size="20.93" fill="#111"  stroke="#111" stroke-width="0.35">2</text>
<text transform="matrix(1.45 0 0 1 1167.5 806.75)" font-family='"Liberation Sans", sans-serif' font-size="20.93" fill="#111"  stroke="#111" stroke-width="0.35">1</text>
<text transform="matrix(1.45 0 0 1 1167.21 884.5)" font-family='"Liberation Sans", sans-serif' font-size="20.93" fill="#111"  stroke="#111" stroke-width="0.35">0</text>
<text transform="matrix(1.3278 0 0 1 1389.94 900.7)" font-family='"Liberation Sans", sans-serif' font-size="21.22" fill="#111" >Amp</text>
<text transform="matrix(1.4128 0 0 1 1228.04 921.7)" font-family='"Liberation Sans", sans-serif' font-size="21.22" fill="#111" >NC</text>
<text transform="matrix(1.4216 0 0 1 1304.93 941.9)" font-family='"Liberation Sans", sans-serif' font-size="21.22" fill="#111">H<tspan font-size="12.73" dy="2.02">2</tspan><tspan dy="-2.02">O</tspan></text>
<text transform="matrix(1.4474 0 0 1 1379.18 941.9)" font-family='"Liberation Sans", sans-serif' font-size="21.22" fill="#111" >LABL</text>
<text transform="matrix(1.4568 0 0 1 1463.46 941.9)" font-family='"Liberation Sans", sans-serif' font-size="21.22" fill="#111" >LABH</text>
<line x1="1311.2" y1="912.8" x2="1545" y2="912.8" stroke="#222" stroke-width="2.4"/>
<g transform="matrix(0 -1 1.5389 0 1119.2 801.26)" font-family='"Liberation Sans", sans-serif' fill="#111"><text x="0" y="0" font-size="25.03">Tph1 (2-</text><text transform="matrix(1.1452 0 0 1 94.88 -8.1)" font-size="17.19" font-family='"DejaVu Sans", sans-serif' fill="#8c8c8c">△</text><text transform="matrix(1.1452 0 0 1 112.03 -8.1)" font-size="17.19" font-family='"DejaVu Sans", sans-serif' fill="#8c8c8c">△</text><text x="128.14" y="-7.91" font-size="16.02">CT</text><text x="149.78" y="0" font-size="25.03">)</text></g>
<text font-family='"Liberation Serif", serif' fill="#000" y="1002.6"><tspan x="1351.59" font-size="42.2" textLength="12.93" lengthAdjust="spacingAndGlyphs">(</tspan><tspan x="1364.26" y="1002.2" font-size="40.5" font-weight="bold" textLength="23.02" lengthAdjust="spacingAndGlyphs">g</tspan><tspan x="1387.78" y="1002.6" font-size="42.2" textLength="12.93" lengthAdjust="spacingAndGlyphs">)</tspan></text>
</g>
<g id="panel-h">
<rect x="1783.1" y="740.9" width="49.9" height="139.6" fill="url(#dots_h)"/>
<rect x="1856.2" y="676.9" width="49.8" height="203.6" fill="url(#dots_h)"/>
<rect x="1928.6" y="765.9" width="50.1" height="114.6" fill="url(#dots_h)"/>
<rect x="2001.6" y="774.9" width="50.1" height="105.6" fill="url(#dots_h)"/>
<line x1="1784.35" y1="740.9" x2="1784.35" y2="880.5" stroke="#000" stroke-width="2.5"/>
<line x1="1831.75" y1="740.9" x2="1831.75" y2="880.5" stroke="#000" stroke-width="2.5"/>
<line x1="1783.1" y1="741.5" x2="1833" y2="741.5" stroke="#000" stroke-width="1.2"/>
<line x1="1857.45" y1="676.9" x2="1857.45" y2="880.5" stroke="#000" stroke-width="2.5"/>
<line x1="1904.75" y1="676.9" x2="1904.75" y2="880.5" stroke="#000" stroke-width="2.5"/>
<line x1="1856.2" y1="677.5" x2="1906" y2="677.5" stroke="#000" stroke-width="1.2"/>
<line x1="1929.85" y1="765.9" x2="1929.85" y2="880.5" stroke="#000" stroke-width="2.5"/>
<line x1="1977.45" y1="765.9" x2="1977.45" y2="880.5" stroke="#000" stroke-width="2.5"/>
<line x1="1928.6" y1="766.5" x2="1978.7" y2="766.5" stroke="#000" stroke-width="1.2"/>
<line x1="2002.85" y1="774.9" x2="2002.85" y2="880.5" stroke="#000" stroke-width="2.5"/>
<line x1="2050.45" y1="774.9" x2="2050.45" y2="880.5" stroke="#000" stroke-width="2.5"/>
<line x1="2001.6" y1="775.5" x2="2051.7" y2="775.5" stroke="#000" stroke-width="1.2"/>
<line x1="1807.6" y1="688.9" x2="1807.6" y2="793.1" stroke="#000" stroke-width="2.5"/>
<line x1="1796.6" y1="689.5" x2="1821.4" y2="689.5" stroke="#000" stroke-width="1.2"/>
<line x1="1796.6" y1="792.5" x2="1821.4" y2="792.5" stroke="#000" stroke-width="1.2"/>
<line x1="1880.3" y1="639.9" x2="1880.3" y2="714.1" stroke="#000" stroke-width="2.5"/>
<line x1="1869.3" y1="640.5" x2="1894.1" y2="640.5" stroke="#000" stroke-width="1.2"/>
<line x1="1869.3" y1="713.5" x2="1894.1" y2="713.5" stroke="#000" stroke-width="1.2"/>
<line x1="1953.3" y1="720.9" x2="1953.3" y2="812.1" stroke="#000" stroke-width="2.5"/>
<line x1="1942.3" y1="721.5" x2="1967.1" y2="721.5" stroke="#000" stroke-width="1.2"/>
<line x1="1942.3" y1="811.5" x2="1967.1" y2="811.5" stroke="#000" stroke-width="1.2"/>
<line x1="2026.3" y1="747.9" x2="2026.3" y2="802.1" stroke="#000" stroke-width="2.5"/>
<line x1="2015.3" y1="748.5" x2="2040.1" y2="748.5" stroke="#000" stroke-width="1.2"/>
<line x1="2015.3" y1="801.5" x2="2040.1" y2="801.5" stroke="#000" stroke-width="1.2"/>
<line x1="1772" y1="578.9" x2="1772" y2="881.1" stroke="#000" stroke-width="2.5"/>
<line x1="1761.3" y1="880.5" x2="2064.3" y2="880.5" stroke="#000" stroke-width="1.2"/>
<line x1="1761.3" y1="579.5" x2="1772" y2="579.5" stroke="#000" stroke-width="1.2"/>
<line x1="1761.3" y1="629.5" x2="1772" y2="629.5" stroke="#000" stroke-width="1.2"/>
<line x1="1761.3" y1="679.5" x2="1772" y2="679.5" stroke="#000" stroke-width="1.2"/>
<line x1="1761.3" y1="729.5" x2="1772" y2="729.5" stroke="#000" stroke-width="1.2"/>
<line x1="1761.3" y1="779.5" x2="1772" y2="779.5" stroke="#000" stroke-width="1.2"/>
<line x1="1761.3" y1="830.5" x2="1772" y2="830.5" stroke="#000" stroke-width="1.2"/>
<line x1="1761.3" y1="880.5" x2="1772" y2="880.5" stroke="#000" stroke-width="1.2"/>
<text transform="matrix(1.35 0 0 1 1720.35 586.2)" font-family='"Liberation Sans", sans-serif' font-size="19.77" fill="#111" >3.0</text>
<text transform="matrix(1.35 0 0 1 1720.42 636.33)" font-family='"Liberation Sans", sans-serif' font-size="19.77" fill="#111" >2.5</text>
<text transform="matrix(1.35 0 0 1 1720.35 686.47)" font-family='"Liberation Sans", sans-serif' font-size="19.77" fill="#111" >2.0</text>
<text transform="matrix(1.35 0 0 1 1720.42 736.6)" font-family='"Liberation Sans", sans-serif' font-size="19.77" fill="#111" >1.5</text>
<text transform="matrix(1.35 0 0 1 1720.35 786.73)" font-family='"Liberation Sans", sans-serif' font-size="19.77" fill="#111" >1.0</text>
<text transform="matrix(1.35 0 0 1 1720.42 836.87)" font-family='"Liberation Sans", sans-serif' font-size="19.77" fill="#111" >0.5</text>
<text transform="matrix(1.35 0 0 1 1720.35 887)" font-family='"Liberation Sans", sans-serif' font-size="19.77" fill="#111" >0.0</text>
<text transform="matrix(1.1796 0 0 1 1931.95 901.7)" font-family='"Liberation Sans", sans-serif' font-size="20.35" fill="#111" >Amp</text>
<text transform="matrix(1.2247 0 0 1 1795.96 923.4)" font-family='"Liberation Sans", sans-serif' font-size="20.35" fill="#111" >NC</text>
<text transform="matrix(1.2691 0 0 1 1861.48 943.2)" font-family='"Liberation Sans", sans-serif' font-size="20.35" fill="#111">H<tspan font-size="12.21" dy="1.93">2</tspan><tspan dy="-1.93">O</tspan></text>
<text transform="matrix(1.2712 0 0 1 1923.88 943.2)" font-family='"Liberation Sans", sans-serif' font-size="20.35" fill="#111" >LABL</text>
<text transform="matrix(1.2724 0 0 1 1994.18 943.2)" font-family='"Liberation Sans", sans-serif' font-size="20.35" fill="#111" >LABH</text>
<line x1="1867.7" y1="914.3" x2="2063" y2="914.3" stroke="#222" stroke-width="2.4"/>
<g transform="matrix(0 -1 1.3729 0 1695.5 805.65)" font-family='"Liberation Sans", sans-serif' fill="#111"><text x="0" y="0" font-size="23.82">Mao (2-</text><text transform="matrix(1.1452 0 0 1 82.35 -7.71)" font-size="16.36" font-family='"DejaVu Sans", sans-serif' fill="#8c8c8c">△</text><text transform="matrix(1.1452 0 0 1 98.67 -7.71)" font-size="16.36" font-family='"DejaVu Sans", sans-serif' fill="#8c8c8c">△</text><text x="114" y="-7.53" font-size="15.25">CT</text><text x="134.6" y="0" font-size="23.82">)</text></g>
<text font-family='"Liberation Serif", serif' fill="#000" y="1002.6"><tspan x="1890.29" font-size="42.2" textLength="12.93" lengthAdjust="spacingAndGlyphs">(</tspan><tspan x="1902.93" y="1002.2" font-size="40.5" font-weight="bold" textLength="27.65" lengthAdjust="spacingAndGlyphs">h</tspan><tspan x="1930.78" y="1002.6" font-size="42.2" textLength="12.93" lengthAdjust="spacingAndGlyphs">)</tspan></text>
<text transform="matrix(1.2889 0 0 1 1804.09 596.6)" font-family='"Liberation Sans", sans-serif' font-size="20.35" fill="#111"><tspan font-style="italic">P</tspan>=0.06</text>
<line x1="1800.3" y1="601.1" x2="1894.3" y2="601.1" stroke="#111" stroke-width="1.9"/>
<text transform="matrix(1.15 0 0 1 1903.52 618.3)" font-family='"Liberation Sans", sans-serif' font-size="24" fill="#111">*</text>
<line x1="1865.7" y1="615.7" x2="1960.3" y2="615.7" stroke="#111" stroke-width="1.9"/>
<text transform="matrix(1.15 0 0 1 1950.62 637.3)" font-family='"Liberation Sans", sans-serif' font-size="24" fill="#111">*</text>
<line x1="1878.2" y1="633.3" x2="2031" y2="633.3" stroke="#111" stroke-width="1.9"/>
</g>
<g id="panel-i">
<rect x="146" y="1234.9" width="55.9" height="128.6" fill="url(#check_i)"/>
<rect x="226.2" y="1172.9" width="55.6" height="190.6" fill="url(#check_i)"/>
<rect x="306.2" y="1302.9" width="56" height="60.6" fill="url(#check_i)"/>
<rect x="386.2" y="1238.9" width="55.6" height="124.6" fill="url(#check_i)"/>
<line x1="147.25" y1="1234.9" x2="147.25" y2="1363.5" stroke="#000" stroke-width="2.5"/>
<line x1="200.65" y1="1234.9" x2="200.65" y2="1363.5" stroke="#000" stroke-width="2.5"/>
<line x1="146" y1="1235.5" x2="201.9" y2="1235.5" stroke="#000" stroke-width="1.2"/>
<line x1="227.45" y1="1172.9" x2="227.45" y2="1363.5" stroke="#000" stroke-width="2.5"/>
<line x1="280.55" y1="1172.9" x2="280.55" y2="1363.5" stroke="#000" stroke-width="2.5"/>
<line x1="226.2" y1="1173.5" x2="281.8" y2="1173.5" stroke="#000" stroke-width="1.2"/>
<line x1="307.45" y1="1302.9" x2="307.45" y2="1363.5" stroke="#000" stroke-width="2.5"/>
<line x1="360.95" y1="1302.9" x2="360.95" y2="1363.5" stroke="#000" stroke-width="2.5"/>
<line x1="306.2" y1="1303.5" x2="362.2" y2="1303.5" stroke="#000" stroke-width="1.2"/>
<line x1="387.45" y1="1238.9" x2="387.45" y2="1363.5" stroke="#000" stroke-width="2.5"/>
<line x1="440.55" y1="1238.9" x2="440.55" y2="1363.5" stroke="#000" stroke-width="2.5"/>
<line x1="386.2" y1="1239.5" x2="441.8" y2="1239.5" stroke="#000" stroke-width="1.2"/>
<line x1="173.5" y1="1215.9" x2="173.5" y2="1253.1" stroke="#000" stroke-width="2.5"/>
<line x1="160.9" y1="1216.5" x2="187.7" y2="1216.5" stroke="#000" stroke-width="1.2"/>
<line x1="160.9" y1="1252.5" x2="187.7" y2="1252.5" stroke="#000" stroke-width="1.2"/>
<line x1="254" y1="1133.9" x2="254" y2="1211.1" stroke="#000" stroke-width="2.5"/>
<line x1="241.4" y1="1134.5" x2="268.2" y2="1134.5" stroke="#000" stroke-width="1.2"/>
<line x1="241.4" y1="1210.5" x2="268.2" y2="1210.5" stroke="#000" stroke-width="1.2"/>
<line x1="334" y1="1290.9" x2="334" y2="1315.1" stroke="#000" stroke-width="2.5"/>
<line x1="321.4" y1="1291.5" x2="348.2" y2="1291.5" stroke="#000" stroke-width="1.2"/>
<line x1="321.4" y1="1314.5" x2="348.2" y2="1314.5" stroke="#000" stroke-width="1.2"/>
<line x1="413.7" y1="1172.9" x2="413.7" y2="1306.1" stroke="#000" stroke-width="2.5"/>
<line x1="401.1" y1="1173.5" x2="427.9" y2="1173.5" stroke="#000" stroke-width="1.2"/>
<line x1="401.1" y1="1305.5" x2="427.9" y2="1305.5" stroke="#000" stroke-width="1.2"/>
<line x1="134" y1="1046.9" x2="134" y2="1364.1" stroke="#000" stroke-width="2.5"/>
<line x1="123.3" y1="1363.5" x2="455" y2="1363.5" stroke="#000" stroke-width="1.2"/>
<line x1="123.3" y1="1047.5" x2="134" y2="1047.5" stroke="#000" stroke-width="1.2"/>
<line x1="123.3" y1="1110.5" x2="134" y2="1110.5" stroke="#000" stroke-width="1.2"/>
<line x1="123.3" y1="1173.5" x2="134" y2="1173.5" stroke="#000" stroke-width="1.2"/>
<line x1="123.3" y1="1236.5" x2="134" y2="1236.5" stroke="#000" stroke-width="1.2"/>
<line x1="123.3" y1="1300.5" x2="134" y2="1300.5" stroke="#000" stroke-width="1.2"/>
<text transform="matrix(1.42 0 0 1 77.74 1054.2)" font-family='"Liberation Sans", sans-serif' font-size="20.35" fill="#111"  stroke="#111" stroke-width="0.35">2.5</text>
<text transform="matrix(1.42 0 0 1 77.66 1117.42)" font-family='"Liberation Sans", sans-serif' font-size="20.35" fill="#111"  stroke="#111" stroke-width="0.35">2.0</text>
<text transform="matrix(1.42 0 0 1 77.74 1180.64)" font-family='"Liberation Sans", sans-serif' font-size="20.35" fill="#111"  stroke="#111" stroke-width="0.35">1.5</text>
<text transform="matrix(1.42 0 0 1 77.66 1243.86)" font-family='"Liberation Sans", sans-serif' font-size="20.35" fill="#111"  stroke="#111" stroke-width="0.35">1.0</text>
<text transform="matrix(1.42 0 0 1 77.74 1307.08)" font-family='"Liberation Sans", sans-serif' font-size="20.35" fill="#111"  stroke="#111" stroke-width="0.35">0.5</text>
<text transform="matrix(1.42 0 0 1 77.66 1370.3)" font-family='"Liberation Sans", sans-serif' font-size="20.35" fill="#111"  stroke="#111" stroke-width="0.35">0.0</text>
<text transform="matrix(1.2593 0 0 1 297.65 1382.7)" font-family='"Liberation Sans", sans-serif' font-size="20.64" fill="#111" >Amp</text>
<text transform="matrix(1.3172 0 0 1 147.07 1403.3)" font-family='"Liberation Sans", sans-serif' font-size="20.64" fill="#111" >NC</text>
<text transform="matrix(1.3735 0 0 1 218.67 1424.9)" font-family='"Liberation Sans", sans-serif' font-size="20.64" fill="#111">H<tspan font-size="12.38" dy="1.96">2</tspan><tspan dy="-1.96">O</tspan></text>
<text transform="matrix(1.351 0 0 1 288.41 1424.9)" font-family='"Liberation Sans", sans-serif' font-size="20.64" fill="#111" >LABL</text>
<text transform="matrix(1.3514 0 0 1 365.41 1424.9)" font-family='"Liberation Sans", sans-serif' font-size="20.64" fill="#111" >LABH</text>
<line x1="233.3" y1="1393.7" x2="449" y2="1393.7" stroke="#222" stroke-width="2.4"/>
<g transform="matrix(0 -1 1.3756 0 59.1 1279.45)" font-family='"Liberation Sans", sans-serif' fill="#111"><text x="0" y="0" font-size="24.94">Pten (2-</text><text transform="matrix(1.1452 0 0 1 88.99 -8.07)" font-size="17.12" font-family='"DejaVu Sans", sans-serif' fill="#8c8c8c">△</text><text transform="matrix(1.1452 0 0 1 106.07 -8.07)" font-size="17.12" font-family='"DejaVu Sans", sans-serif' fill="#8c8c8c">△</text><text x="122.13" y="-7.88" font-size="15.96">CT</text><text x="143.69" y="0" font-size="24.94">)</text></g>
<text font-family='"Liberation Serif", serif' fill="#000" y="1486.2"><tspan x="239.29" font-size="42.2" textLength="12.93" lengthAdjust="spacingAndGlyphs">(</tspan><tspan x="252.14" y="1485.8" font-size="40.5" font-weight="bold" textLength="14.63" lengthAdjust="spacingAndGlyphs">i</tspan><tspan x="267.08" y="1486.2" font-size="42.2" textLength="12.93" lengthAdjust="spacingAndGlyphs">)</tspan></text>
<text transform="matrix(1.3474 0 0 1 157.92 1084.1)" font-family='"Liberation Sans", sans-serif' font-size="21.22" fill="#111"><tspan font-style="italic">P</tspan>=0.08</text>
<line x1="153.3" y1="1094.9" x2="257.3" y2="1094.9" stroke="#111" stroke-width="1.9"/>
<text transform="matrix(1.2 0 0 1 289.69 1118.3)" font-family='"Liberation Sans", sans-serif' font-size="24" fill="#111">*</text>
<line x1="249.3" y1="1118" x2="353.3" y2="1118" stroke="#111" stroke-width="1.9"/>
</g>
<g id="panel-j">
<rect x="697.1" y="1276.9" width="54.9" height="92.6" fill="url(#hatch_j)"/>
<rect x="776.2" y="1336.9" width="56.2" height="32.6" fill="url(#hatch_j)"/>
<rect x="856.6" y="1283.9" width="55.5" height="85.6" fill="url(#hatch_j)"/>
<rect x="936.2" y="1186.9" width="55.9" height="182.6" fill="url(#hatch_j)"/>
<line x1="698.35" y1="1276.9" x2="698.35" y2="1369.5" stroke="#000" stroke-width="2.5"/>
<line x1="750.75" y1="1276.9" x2="750.75" y2="1369.5" stroke="#000" stroke-width="2.5"/>
<line x1="697.1" y1="1277.5" x2="752" y2="1277.5" stroke="#000" stroke-width="1.2"/>
<line x1="777.45" y1="1336.9" x2="777.45" y2="1369.5" stroke="#000" stroke-width="2.5"/>
<line x1="831.15" y1="1336.9" x2="831.15" y2="1369.5" stroke="#000" stroke-width="2.5"/>
<line x1="776.2" y1="1337.5" x2="832.4" y2="1337.5" stroke="#000" stroke-width="1.2"/>
<line x1="857.85" y1="1283.9" x2="857.85" y2="1369.5" stroke="#000" stroke-width="2.5"/>
<line x1="910.85" y1="1283.9" x2="910.85" y2="1369.5" stroke="#000" stroke-width="2.5"/>
<line x1="856.6" y1="1284.5" x2="912.1" y2="1284.5" stroke="#000" stroke-width="1.2"/>
<line x1="937.45" y1="1186.9" x2="937.45" y2="1369.5" stroke="#000" stroke-width="2.5"/>
<line x1="990.85" y1="1186.9" x2="990.85" y2="1369.5" stroke="#000" stroke-width="2.5"/>
<line x1="936.2" y1="1187.5" x2="992.1" y2="1187.5" stroke="#000" stroke-width="1.2"/>
<line x1="723.6" y1="1219.9" x2="723.6" y2="1336.1" stroke="#000" stroke-width="2.5"/>
<line x1="712" y1="1220.5" x2="738.2" y2="1220.5" stroke="#000" stroke-width="1.2"/>
<line x1="712" y1="1335.5" x2="738.2" y2="1335.5" stroke="#555" stroke-width="1.2"/>
<line x1="804.3" y1="1315.9" x2="804.3" y2="1359.1" stroke="#000" stroke-width="2.5"/>
<line x1="792.7" y1="1316.5" x2="818.9" y2="1316.5" stroke="#000" stroke-width="1.2"/>
<line x1="792.7" y1="1358.5" x2="818.9" y2="1358.5" stroke="#555" stroke-width="1.2"/>
<line x1="884" y1="1214.9" x2="884" y2="1354.1" stroke="#000" stroke-width="2.5"/>
<line x1="872.4" y1="1215.5" x2="898.6" y2="1215.5" stroke="#000" stroke-width="1.2"/>
<line x1="872.4" y1="1353.5" x2="898.6" y2="1353.5" stroke="#555" stroke-width="1.2"/>
<line x1="964" y1="1124.9" x2="964" y2="1251.1" stroke="#000" stroke-width="2.5"/>
<line x1="952.4" y1="1125.5" x2="978.6" y2="1125.5" stroke="#000" stroke-width="1.2"/>
<line x1="952.4" y1="1250.5" x2="978.6" y2="1250.5" stroke="#555" stroke-width="1.2"/>
<line x1="684.5" y1="1068.9" x2="684.5" y2="1370.1" stroke="#000" stroke-width="2.5"/>
<line x1="674.3" y1="1369.5" x2="1005" y2="1369.5" stroke="#000" stroke-width="1.2"/>
<line x1="674.3" y1="1069.5" x2="684.5" y2="1069.5" stroke="#000" stroke-width="1.2"/>
<line x1="674.3" y1="1144.5" x2="684.5" y2="1144.5" stroke="#000" stroke-width="1.2"/>
<line x1="674.3" y1="1219.5" x2="684.5" y2="1219.5" stroke="#000" stroke-width="1.2"/>
<line x1="674.3" y1="1294.5" x2="684.5" y2="1294.5" stroke="#000" stroke-width="1.2"/>
<text transform="matrix(1.3 0 0 1 653.06 1075.5)" font-family='"Liberation Sans", sans-serif' font-size="20.35" fill="#111"  stroke="#111" stroke-width="0.35">4</text>
<text transform="matrix(1.3 0 0 1 653.45 1150.58)" font-family='"Liberation Sans", sans-serif' font-size="20.35" fill="#111"  stroke="#111" stroke-width="0.35">3</text>
<text transform="matrix(1.3 0 0 1 653.62 1225.65)" font-family='"Liberation Sans", sans-serif' font-size="20.35" fill="#111"  stroke="#111" stroke-width="0.35">2</text>
<text transform="matrix(1.3 0 0 1 653.58 1300.72)" font-family='"Liberation Sans", sans-serif' font-size="20.35" fill="#111"  stroke="#111" stroke-width="0.35">1</text>
<text transform="matrix(1.3 0 0 1 653.32 1375.8)" font-family='"Liberation Sans", sans-serif' font-size="20.35" fill="#111"  stroke="#111" stroke-width="0.35">0</text>
<text transform="matrix(1.3017 0 0 1 853.95 1388)" font-family='"Liberation Sans", sans-serif' font-size="20.35" fill="#111"  stroke="#111" stroke-width="0.5">Amp</text>
<text transform="matrix(1.3731 0 0 1 703.41 1407)" font-family='"Liberation Sans", sans-serif' font-size="20.35" fill="#111"  stroke="#111" stroke-width="0.5">NC</text>
<text transform="matrix(1.4248 0 0 1 774.92 1427.7)" font-family='"Liberation Sans", sans-serif' font-size="20.35" fill="#111" stroke="#111" stroke-width="0.5">H<tspan font-size="12.21" dy="1.93">2</tspan><tspan dy="-1.93">O</tspan></text>
<text transform="matrix(1.3788 0 0 1 845 1427.7)" font-family='"Liberation Sans", sans-serif' font-size="20.35" fill="#111"  stroke="#111" stroke-width="0.5">LABL</text>
<text transform="matrix(1.3968 0 0 1 920.37 1427.7)" font-family='"Liberation Sans", sans-serif' font-size="20.35" fill="#111"  stroke="#111" stroke-width="0.5">LABH</text>
<line x1="781.7" y1="1399.3" x2="995.7" y2="1399.3" stroke="#222" stroke-width="2.4"/>
<g transform="matrix(0 -1 1.4398 0 612.2 1298.8)" font-family='"Liberation Sans", sans-serif' fill="#111"><text x="0" y="0" font-size="23.82">Vegfα (2-</text><text transform="matrix(1.1452 0 0 1 98.79 -7.71)" font-size="16.36" font-family='"DejaVu Sans", sans-serif' fill="#8c8c8c">△</text><text transform="matrix(1.1452 0 0 1 115.11 -7.71)" font-size="16.36" font-family='"DejaVu Sans", sans-serif' fill="#8c8c8c">△</text><text x="130.45" y="-7.53" font-size="15.25">CT</text><text x="151.05" y="0" font-size="23.82">)</text></g>
<text font-family='"Liberation Serif", serif' fill="#000" y="1486.2"><tspan x="811.59" font-size="42.2" textLength="12.93" lengthAdjust="spacingAndGlyphs">(</tspan><tspan x="827.36" y="1485.8" font-size="40.5" textLength="14.63" lengthAdjust="spacingAndGlyphs">j</tspan><tspan x="838.78" y="1486.2" font-size="42.2" textLength="12.93" lengthAdjust="spacingAndGlyphs">)</tspan></text>
<text transform="matrix(1.4078 0 0 1 726.65 1084.4)" font-family='"Liberation Sans", sans-serif' font-size="20.35" fill="#111"  stroke="#111" stroke-width="0.5">P=0.08</text>
<line x1="722.7" y1="1091.3" x2="826.7" y2="1091.3" stroke="#111" stroke-width="1.9"/>
<text transform="matrix(1.2 0 0 1 871.09 1112.3)" font-family='"Liberation Sans", sans-serif' font-size="24" fill="#111">*</text>
<line x1="802.7" y1="1112.9" x2="970.7" y2="1112.9" stroke="#111" stroke-width="1.9"/>
</g>
</svg>
</body>
</html>
